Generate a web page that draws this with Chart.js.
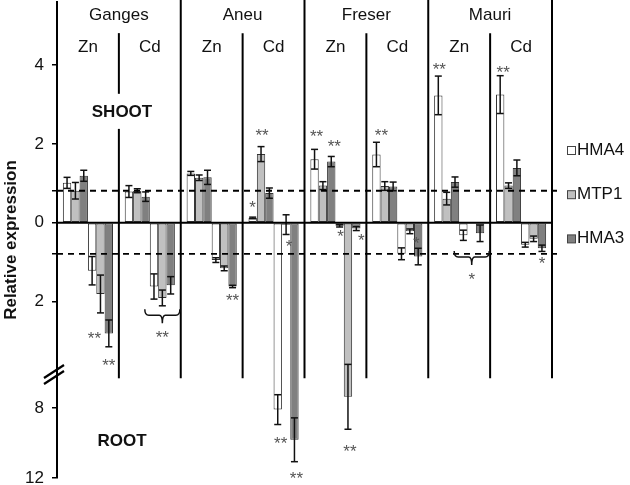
<!DOCTYPE html>
<html><head><meta charset="utf-8">
<script src="https://cdn.jsdelivr.net/npm/chart.js@4.4.1/dist/chart.umd.min.js"></script>
<style>html,body{margin:0;padding:0;background:#fff}</style>
</head><body>
<canvas id="c" width="630" height="485"></canvas>
<script>
// ---------- data ----------
const GENOTYPES = ['Ganges', 'Aneu', 'Freser', 'Mauri'];
const TREATMENTS = ['Zn', 'Cd'];
const CATEGORIES = ['Ganges Zn', 'Ganges Cd', 'Aneu Zn', 'Aneu Cd', 'Freser Zn', 'Freser Cd', 'Mauri Zn', 'Mauri Cd'];
const GENES = ['HMA4', 'MTP1', 'HMA3'];

// shoot (plotted upward)
const SHOOT_HMA4     = [1.01, 0.79, 1.25, 0.12, 1.61, 1.73, 3.23, 3.25];
const SHOOT_HMA4_ERR = [0.14, 0.15, 0.05, 0.02, 0.25, 0.31, 0.49, 0.48];
const SHOOT_MTP1     = [0.81, 0.81, 1.14, 1.74, 0.94, 0.93, 0.61, 0.94];
const SHOOT_MTP1_ERR = [0.21, 0.05, 0.07, 0.19, 0.10, 0.11, 0.16, 0.07];
const SHOOT_HMA3     = [1.19, 0.66, 1.15, 0.75, 1.55, 0.92, 1.03, 1.39];
const SHOOT_HMA3_ERR = [0.14, 0.12, 0.18, 0.13, 0.13, 0.11, 0.13, 0.20];

// root (magnitudes, plotted downward)
const ROOT_HMA4      = [1.22, 1.62, 0.95, 8.10, 0.08, 0.79, 0.32, 0.56];
const ROOT_HMA4_ERR  = [0.36, 0.32, 0.06, 0.85, 0.03, 0.15, 0.13, 0.06];
const ROOT_MTP1      = [1.81, 1.91, 1.16, 0.05, 7.37, 0.22, 0.00, 0.41];
const ROOT_MTP1_ERR  = [0.48, 0.20, 0.06, 0.25, 1.85, 0.06, 0.00, 0.07];
const ROOT_HMA3      = [2.81, 1.59, 1.62, 9.82, 0.15, 0.86, 0.27, 0.65];
const ROOT_HMA3_ERR  = [0.34, 0.22, 0.03, 1.25, 0.05, 0.21, 0.21, 0.08];

const Y_TICK_VALUES = [4, 2, 0, -2, -8, -12];
const THRESHOLD_SHOOT = 0.81;
const THRESHOLD_ROOT = 0.79;

// significance marks: [category index, series index (0-2 shoot, 3-5 root), text]
const STARS = [
  [3, 0, '*'], [3, 1, '**'], [4, 0, '**'], [4, 2, '**'], [5, 0, '**'], [6, 0, '**'], [7, 0, '**'],
  [0, 4, '**'], [0, 5, '**'], [2, 5, '**'], [3, 3, '**'], [3, 4, '*'], [3, 5, '**'],
  [4, 3, '*'], [4, 4, '**'], [4, 5, '*'], [5, 5, '*'], [7, 5, '*']
];
const BRACE_MARKS = [[1, '**'], [6, '*']];

// ---------- layout/style ----------
const FONT = "'Liberation Sans', Arial, Helvetica, sans-serif";
const COLORS = ['#ffffff', '#c0c0c0', '#808080'];
const STAR_OFFSETS = [ // [dx, dy] relative to bar centre / error end
  [0, -14], [1, -15], [2, -17], [3, -14], [5, -11], [1, -11], [3, -7],
  [-6, 22], [0, 15], [0, 9], [3, 15], [3, 8], [2, 13],
  [1, 6], [2, 18], [5, 6], [-2, -25], [0, 8]
];
const BRACE_LEVELS = [2.2, 0.72]; // root-axis position of the brace top

const BREAK_AT = 4, BREAK_D = 4.70, BREAK_REF = 8, COMPRESS = 0.445;
class BrokenLinearScale extends Chart.LinearScale {
  toDisplay(v) {
    if (v >= -BREAK_AT) return v;
    const r = -v;
    return -(BREAK_D + (r - BREAK_REF) * COMPRESS);
  }
  getPixelForValue(v) { return super.getPixelForValue(this.toDisplay(v)); }
  buildTicks() {
    const vals = Y_TICK_VALUES.concat([THRESHOLD_SHOOT, -THRESHOLD_ROOT]);
    return vals.sort((a, b) => a - b).map(v => ({ value: v }));
  }
}
BrokenLinearScale.id = 'brokenLinear';
BrokenLinearScale.defaults = Chart.LinearScale.defaults;
Chart.register(BrokenLinearScale);

function mkDs(label, vals, errs, color, root) {
  return {
    label: label,
    data: vals.map(v => root ? -v : v),
    errors: errs.map(e => e),
    isRoot: root,
    backgroundColor: color,
    borderColor: '#333',
    borderWidth: 1,
    borderSkipped: false
  };
}
const datasets = [
  mkDs(GENES[0], SHOOT_HMA4, SHOOT_HMA4_ERR, COLORS[0], false),
  mkDs(GENES[1], SHOOT_MTP1, SHOOT_MTP1_ERR, COLORS[1], false),
  mkDs(GENES[2], SHOOT_HMA3, SHOOT_HMA3_ERR, COLORS[2], false),
  mkDs(GENES[0], ROOT_HMA4, ROOT_HMA4_ERR, COLORS[0], true),
  mkDs(GENES[1], ROOT_MTP1, ROOT_MTP1_ERR, COLORS[1], true),
  mkDs(GENES[2], ROOT_HMA3, ROOT_HMA3_ERR, COLORS[2], true)
];

function line(ctx, x1, y1, x2, y2) { ctx.beginPath(); ctx.moveTo(x1, y1); ctx.lineTo(x2, y2); ctx.stroke(); }

const decor = {
  id: 'decor',
  afterDatasetsDraw(chart) {
    const { ctx, chartArea: ca, scales: { x, y } } = chart;
    ctx.save();
    // error bars
    ctx.strokeStyle = '#111'; ctx.lineWidth = 1.5;
    chart.data.datasets.forEach((ds, di) => {
      const meta = chart.getDatasetMeta(di);
      ds.data.forEach((v, i) => {
        const e = ds.errors[i];
        if (!e) return;
        const bx = meta.data[i].x;
        const y1 = y.getPixelForValue(v - e), y2 = y.getPixelForValue(v + e);
        line(ctx, bx, y1, bx, y2);
        line(ctx, bx - 3.5, y1, bx + 3.5, y1);
        line(ctx, bx - 3.5, y2, bx + 3.5, y2);
      });
    });

    const cw = (x.getPixelForValue(1) - x.getPixelForValue(0));
    const bnd = i => x.getPixelForValue(i) + cw / 2;
    const yBottom = y.getPixelForValue(-3.95);
    // zero line
    ctx.lineWidth = 2; ctx.strokeStyle = '#000';
    line(ctx, ca.left, y.getPixelForValue(0), ca.right, y.getPixelForValue(0));
    // genotype separators
    [1, 3, 5, 7].forEach(i => line(ctx, bnd(i), 0, bnd(i), yBottom));
    // treatment separators
    const subTop = y.getPixelForValue(4.81);
    [0, 2, 4, 6].forEach(i => {
      if (i === 0) {
        line(ctx, bnd(i), subTop, bnd(i), y.getPixelForValue(3.27));
        line(ctx, bnd(i), y.getPixelForValue(2.38), bnd(i), yBottom);
      } else line(ctx, bnd(i), subTop, bnd(i), yBottom);
    });
    // dashed thresholds
    ctx.setLineDash([6, 5]); ctx.lineWidth = 1.8;
    line(ctx, ca.left, y.getPixelForValue(THRESHOLD_SHOOT), ca.right + 5, y.getPixelForValue(THRESHOLD_SHOOT));
    line(ctx, ca.left, y.getPixelForValue(-THRESHOLD_ROOT), ca.right + 5, y.getPixelForValue(-THRESHOLD_ROOT));
    ctx.setLineDash([]);

    // axis break marks
    ctx.lineWidth = 2.2; ctx.strokeStyle = '#000';
    const by = y.getPixelForValue(-3.79);
    line(ctx, ca.left - 13, by + 6, ca.left + 7, by - 7);
    line(ctx, ca.left - 13, by + 12, ca.left + 7, by - 1);

    // texts
    ctx.fillStyle = '#111';
    ctx.textAlign = 'center'; ctx.textBaseline = 'alphabetic';
    ctx.font = '17px ' + FONT;
    GENOTYPES.forEach((g, k) => {
      const xl = k === 0 ? ca.left : bnd(2 * k - 1);
      const xr = bnd(2 * k + 1);
      ctx.fillText(g, (xl + xr) / 2, 20);
    });
    CATEGORIES.forEach((c, i) => ctx.fillText(TREATMENTS[i % 2], x.getPixelForValue(i), 52));
    ctx.font = 'bold 17px ' + FONT;
    ctx.fillText('SHOOT', 122, 117);
    ctx.fillText('ROOT', 122, 446);

    // stars
    ctx.font = '17px ' + FONT; ctx.fillStyle = '#555';
    STARS.forEach((s, k) => {
      const [ci, di, txt] = s;
      const ds = chart.data.datasets[di];
      const bar = chart.getDatasetMeta(di).data[ci];
      const v = ds.data[ci], e = ds.errors[ci];
      const end = ds.isRoot ? v - e : v + e;
      const [dx, dy] = STAR_OFFSETS[k];
      ctx.fillText(txt, bar.x + dx, y.getPixelForValue(end) + dy + 9.5);
    });

    // braces
    ctx.strokeStyle = '#111'; ctx.lineWidth = 1.5;
    BRACE_MARKS.forEach((b, k) => {
      const [ci, txt] = b;
      const m0 = chart.getDatasetMeta(3).data[ci], m2 = chart.getDatasetMeta(5).data[ci];
      const xl = m0.x - m0.width / 2 - 5, xr = m2.x + m2.width / 2 + 5;
      const xm = (xl + xr) / 2;
      const yt = y.getPixelForValue(-BRACE_LEVELS[k]);
      ctx.beginPath();
      ctx.moveTo(xl, yt);
      ctx.quadraticCurveTo(xl, yt + 6, xl + 4, yt + 6);
      ctx.lineTo(xm - 3, yt + 6);
      ctx.quadraticCurveTo(xm, yt + 6, xm, yt + 14);
      ctx.quadraticCurveTo(xm, yt + 6, xm + 3, yt + 6);
      ctx.lineTo(xr - 4, yt + 6);
      ctx.quadraticCurveTo(xr, yt + 6, xr, yt);
      ctx.stroke();
      ctx.fillStyle = '#555';
      ctx.fillText(txt, xm, yt + 24 + 9.5);
    });

    // legend
    ctx.textAlign = 'left'; ctx.font = '17px ' + FONT; ctx.fillStyle = '#111';
    ctx.lineWidth = 1; ctx.strokeStyle = '#444';
    GENES.forEach((g, k) => {
      const base = 155 + k * 44.2;
      ctx.fillStyle = chart.data.datasets[k].backgroundColor;
      ctx.fillRect(567.5, base - 8.5, 8, 8);
      ctx.strokeRect(567.5, base - 8.5, 8, 8);
      ctx.fillStyle = '#111';
      ctx.fillText(g, 577, base);
    });
    ctx.restore();
  }
};

Chart.defaults.font.family = FONT;
new Chart(document.getElementById('c'), {
  type: 'bar',
  data: { labels: CATEGORIES, datasets: datasets },
  options: {
    responsive: false,
    animation: false,
    layout: { padding: { left: 0, right: 78, top: 2, bottom: 7 } },
    plugins: { legend: { display: false }, tooltip: { enabled: false } },
    datasets: { bar: { categoryPercentage: 0.81, barPercentage: 1.0 } },
    scales: {
      x: { display: false, offset: true },
      y: {
        type: 'brokenLinear',
        min: -6.48, max: 5.60,
        afterFit(s) { s.width = 57; s.paddingTop = 0; s.paddingBottom = 0; },
        border: { display: true, color: '#000', width: 2 },
        grid: { display: true, drawOnChartArea: false, drawTicks: true, tickLength: 5, color: '#000', lineWidth: 1.5 },
        ticks: {
          autoSkip: false, padding: 8, color: '#111', font: { size: 17 },
          callback: v => (Y_TICK_VALUES.indexOf(v) >= 0 ? String(Math.abs(v)) : '')
        },
        title: { display: true, text: 'Relative expression', color: '#111', font: { size: 17, weight: 'bold' }, padding: { top: 1, bottom: 0 } }
      }
    }
  },
  plugins: [decor]
});
</script>
</body></html>
